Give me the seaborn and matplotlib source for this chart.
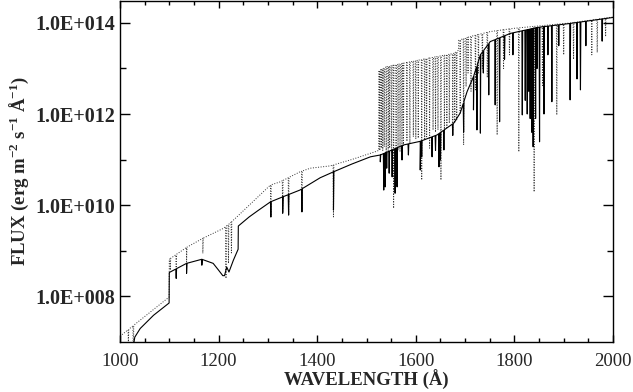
import numpy as np
import pandas as pd
import matplotlib
matplotlib.use("Agg")
import matplotlib.pyplot as plt
import seaborn as sns
from matplotlib.ticker import FixedLocator, MultipleLocator, FuncFormatter, NullFormatter

# ---------------- data ----------------
# solid model: continuum nodes (wavelength Å, log10 flux)
solid_cont_wl = [1022, 1027, 1030, 1041, 1068, 1099.6, 1100.0, 1135, 1166, 1189, 1200, 1208.5, 1212,
                 1216.5, 1221, 1230, 1239.6, 1240.0, 1250, 1262, 1280, 1305, 1330, 1365, 1406, 1433, 1470,
                 1508, 1528, 1575, 1609, 1643, 1677, 1690, 1704, 1717, 1731, 1751, 1792, 1846, 1914, 2000]
solid_cont_lg = [6.55, 6.90, 7.10, 7.29, 7.58, 7.85, 8.52, 8.72, 8.81, 8.72, 8.57, 8.45, 8.45,
                 8.64, 8.53, 8.79, 9.03, 9.54, 9.63, 9.74, 9.88, 10.07, 10.18, 10.33, 10.60, 10.73, 10.90,
                 11.06, 11.10, 11.32, 11.40, 11.54, 11.80, 12.02, 12.49, 12.82, 13.30, 13.59, 13.77, 13.90, 13.99, 14.12]
# solid model: absorption lines (wavelength, log10 flux at line bottom)
solid_line_wl = [1114, 1135, 1166, 1306, 1330, 1342, 1369, 1433, 1528, 1535, 1538, 1541, 1546,
                 1552, 1558, 1562, 1572, 1585, 1609, 1612, 1633, 1640, 1647, 1650, 1657, 1675, 1697,
                 1717, 1724, 1731, 1737, 1748, 1761, 1770, 1780, 1797, 1816, 1822, 1826, 1829, 1832,
                 1835, 1838, 1843, 1846, 1851, 1860, 1868, 1876, 1890, 1913, 1927, 1934, 1945, 1978]
solid_line_lg = [8.39, 8.50, 8.68, 9.74, 9.82, 9.78, 9.85, 9.89, 10.95, 10.33, 10.40, 10.81, 10.70,
                 10.62, 10.26, 10.40, 10.99, 11.10, 10.77, 11.06, 11.06, 11.20, 10.84, 10.99, 11.21, 11.53, 11.60,
                 12.09, 11.65, 11.58, 12.90, 12.42, 12.20, 11.83, 13.20, 13.30, 11.98, 12.30, 12.00, 12.50, 11.90,
                 11.60, 11.28, 11.90, 13.00, 11.39, 12.00, 13.30, 12.27, 13.50, 12.31, 12.77, 12.53, 13.50, 13.60]

# dotted model: continuum nodes
dot_cont_wl = [1000, 1099.6, 1100.0, 1112, 1135, 1168, 1210, 1223, 1237, 1305, 1325, 1365, 1386,
               1426, 1470, 1520, 1524.6, 1525.0, 1541, 1609, 1677, 1686.6, 1687.0, 1710, 1751,
               1798, 1846, 1914, 2000]
dot_cont_lg = [7.12, 7.98, 8.81, 8.90, 9.07, 9.27, 9.49, 9.60, 9.74, 10.44, 10.51, 10.73, 10.81,
               10.86, 11.00, 11.18, 11.20, 12.95, 13.04, 13.19, 13.33, 13.40, 13.62, 13.70, 13.81,
               13.88, 13.93, 14.00, 14.13]
# dotted model: absorption lines
dot_line_wl = [1017, 1027, 1102, 1114, 1135, 1168, 1215, 1220, 1226, 1306, 1330, 1342, 1369, 1433,
               1527, 1530, 1533, 1536, 1540, 1544, 1547, 1551, 1555, 1560, 1564, 1568, 1572, 1575,
               1582, 1588, 1595, 1600, 1605, 1612, 1618, 1622, 1628, 1635, 1640, 1645, 1651, 1658,
               1663, 1668, 1675, 1679, 1683, 1690, 1697, 1702, 1706, 1712, 1721, 1727, 1735, 1745,
               1765, 1778, 1790, 1809, 1840, 1857, 1886, 1900, 1920, 1957, 1968, 1985]
dot_line_lg = [7.00, 6.50, 8.57, 8.62, 8.75, 8.94, 8.39, 8.72, 8.95, 9.74, 9.84, 9.80, 9.85, 9.74,
               11.20, 11.25, 11.20, 11.28, 11.06, 11.20, 11.25, 11.15, 9.93, 11.14, 11.20, 11.17, 11.30, 11.28,
               11.40, 11.35, 11.50, 11.45, 11.47, 10.55, 11.43, 11.50, 11.25, 11.65, 11.60, 11.65, 10.55, 11.58,
               11.70, 11.80, 11.65, 11.80, 11.87, 12.02, 11.32, 12.60, 12.90, 12.50, 12.53, 12.90, 13.00, 12.80,
               11.54, 13.00, 13.30, 11.17, 10.29, 12.60, 11.98, 13.30, 13.20, 13.30, 13.35, 13.70]

x_ticks = [1000, 1200, 1400, 1600, 1800, 2000]
y_ticks = [1e8, 1e10, 1e12, 1e14]


def build_series(cwl, clg, lwl, llg, half=0.8):
    cwl = np.asarray(cwl, float); clg = np.asarray(clg, float)
    wl = list(cwl); lg = list(clg)
    for w, b in zip(lwl, llg):
        wl += [w - half, w, w + half]
        lg += [np.interp(w - half, cwl, clg), b, np.interp(w + half, cwl, clg)]
    wl = np.asarray(wl); lg = np.asarray(lg)
    order = np.argsort(wl, kind="stable")
    return wl[order], 10.0 ** lg[order]


swl, sfl = build_series(solid_cont_wl, solid_cont_lg, solid_line_wl, solid_line_lg)
dwl, dfl = build_series(dot_cont_wl, dot_cont_lg, dot_line_wl, dot_line_lg)
df_solid = pd.DataFrame({"wl": swl, "flux": sfl})
df_dot = pd.DataFrame({"wl": dwl, "flux": dfl})

# ---------------- style ----------------
sns.set_style("ticks")
plt.rcParams["font.family"] = ["Liberation Serif", "DejaVu Serif"]
plt.rcParams["mathtext.fontset"] = "custom"
plt.rcParams["mathtext.rm"] = "Liberation Serif:bold"
plt.rcParams["mathtext.bf"] = "Liberation Serif:bold"
plt.rcParams["mathtext.it"] = "Liberation Serif:bold:italic"

fig = plt.figure(figsize=(6.33, 3.92), dpi=100)
ax = fig.add_axes([120 / 633, 1 - 341.7 / 392, 493 / 633, 340.5 / 392])

sns.lineplot(data=df_dot, x="wl", y="flux", sort=False, estimator=None, ax=ax,
             color="0.2", linewidth=0.7, linestyle=":")
sns.lineplot(data=df_solid, x="wl", y="flux", sort=False, estimator=None, ax=ax,
             color="black", linewidth=0.8)

ax.set_yscale("log")
ax.set_xlim(1000, 2000)
ax.set_ylim(1.0e7, 3.0e14)

ax.xaxis.set_major_locator(FixedLocator(x_ticks))
ax.xaxis.set_minor_locator(MultipleLocator(50))
ax.yaxis.set_major_locator(FixedLocator(y_ticks))
ax.yaxis.set_minor_locator(FixedLocator([1e9, 1e11, 1e13]))
ax.yaxis.set_major_formatter(FuncFormatter(lambda v, p: "1.0E+%03d" % int(round(np.log10(v)))))
ax.yaxis.set_minor_formatter(NullFormatter())
ax.xaxis.set_major_formatter(FuncFormatter(lambda v, p: "%d" % v))

ax.tick_params(axis="both", which="both", direction="in", top=True, right=True,
               color="black", width=1.0)
ax.tick_params(axis="y", which="major", length=7.2, pad=3.5, labelsize=14.5)
ax.tick_params(axis="y", which="minor", length=4.3)
ax.tick_params(axis="x", which="major", length=5.0, pad=8, labelsize=13.5)
ax.tick_params(axis="x", which="minor", length=2.9)
for lab in ax.get_yticklabels():
    lab.set_fontweight("bold")
for sp in ax.spines.values():
    sp.set_visible(True)
    sp.set_linewidth(1.0)
    sp.set_color("black")

ax.set_xlabel("WAVELENGTH (Å)", fontsize=13.5, fontweight="bold", labelpad=0)
ax.set_ylabel(r"FLUX (erg m$^{-2}$ s$^{-1}$ Å$^{-1}$)", fontsize=13.5, fontweight="bold", labelpad=3)

fig.savefig("out.png", dpi=100)
